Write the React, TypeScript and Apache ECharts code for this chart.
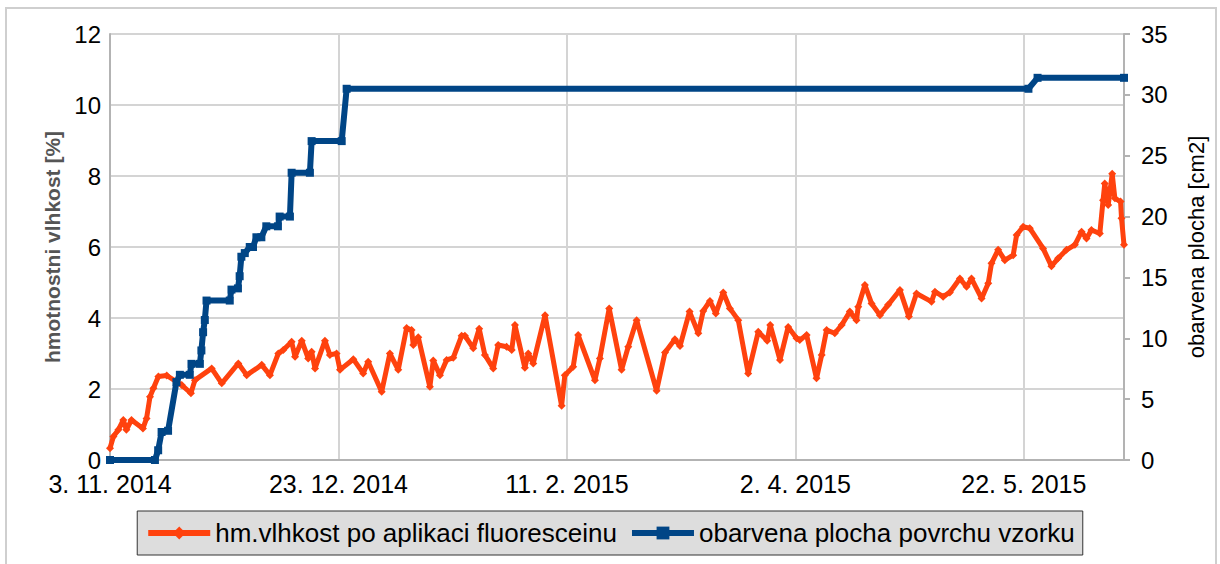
import React, { useEffect, useRef } from 'react';
import * as echarts from 'echarts';

const START = '2014-11-03 00';
const END = '2015-06-12 22';

const humidityName = 'hm.vlhkost po aplikaci fluoresceinu';
const areaName = 'obarvena plocha povrchu vzorku';

const humidityTimes = [
  '2014-11-03 00', '2014-11-03 18', '2014-11-04 20', '2014-11-05 22', '2014-11-06 14', '2014-11-07 17',
  '2014-11-10 05', '2014-11-11 00', '2014-11-11 18', '2014-11-12 12', '2014-11-13 14', '2014-11-15 10',
  '2014-11-18 17', '2014-11-20 17', '2014-11-21 14', '2014-11-25 06', '2014-11-27 11', '2014-12-01 02',
  '2014-12-02 22', '2014-12-06 05', '2014-12-08 00', '2014-12-09 20', '2014-12-10 22', '2014-12-12 18',
  '2014-12-13 12', '2014-12-14 23', '2014-12-16 09', '2014-12-17 03', '2014-12-17 21', '2014-12-20 01',
  '2014-12-21 03', '2014-12-22 14', '2014-12-23 08', '2014-12-26 06', '2014-12-28 10', '2014-12-29 12',
  '2015-01-01 11', '2015-01-03 06', '2015-01-05 02', '2015-01-06 22', '2015-01-08 00', '2015-01-08 09',
  '2015-01-09 11', '2015-01-12 00', '2015-01-12 18', '2015-01-14 05', '2015-01-15 16', '2015-01-17 03',
  '2015-01-18 23', '2015-01-19 16', '2015-01-21 12', '2015-01-22 19', '2015-01-24 01', '2015-01-25 21',
  '2015-01-26 23', '2015-01-28 19', '2015-01-29 22', '2015-01-30 15', '2015-02-01 19', '2015-02-02 13',
  '2015-02-03 15', '2015-02-06 05', '2015-02-09 20', '2015-02-10 13', '2015-02-12 09', '2015-02-13 11',
  '2015-02-17 03', '2015-02-18 05', '2015-02-20 06', '2015-02-22 23', '2015-02-24 10', '2015-02-26 06',
  '2015-03-02 15', '2015-03-04 11', '2015-03-06 15', '2015-03-07 18', '2015-03-09 20', '2015-03-11 18',
  '2015-03-12 20', '2015-03-14 07', '2015-03-15 14', '2015-03-17 05', '2015-03-18 16', '2015-03-20 12',
  '2015-03-22 16', '2015-03-24 21', '2015-03-26 20', '2015-03-27 12', '2015-03-29 15', '2015-03-31 10',
  '2015-04-02 06', '2015-04-02 23', '2015-04-04 11', '2015-04-06 15', '2015-04-07 18', '2015-04-08 20',
  '2015-04-10 15', '2015-04-12 03', '2015-04-13 22', '2015-04-15 09', '2015-04-15 18', '2015-04-17 05',
  '2015-04-18 16', '2015-04-20 12', '2015-04-22 07', '2015-04-24 21', '2015-04-26 20', '2015-04-28 12',
  '2015-05-01 19', '2015-05-02 13', '2015-05-04 08', '2015-05-05 19', '2015-05-08 00', '2015-05-09 11',
  '2015-05-10 13', '2015-05-12 18', '2015-05-14 05', '2015-05-14 22', '2015-05-16 09', '2015-05-17 20',
  '2015-05-19 16', '2015-05-20 10', '2015-05-21 20', '2015-05-23 07', '2015-05-26 05', '2015-05-28 01',
  '2015-05-29 12', '2015-05-31 08', '2015-06-02 04', '2015-06-03 15', '2015-06-04 17', '2015-06-05 19',
  '2015-06-07 15', '2015-06-08 08', '2015-06-08 17', '2015-06-09 11', '2015-06-10 08', '2015-06-10 22',
  '2015-06-12 04', '2015-06-12 09', '2015-06-12 22',
];
const humidityValues = [
  0.33, 0.66, 0.85, 1.13, 0.85, 1.13,
  0.89, 1.17, 1.78, 2.02, 2.35, 2.38,
  2.11, 1.88, 2.25, 2.58, 2.16, 2.72,
  2.39, 2.68, 2.39, 3.0, 3.1, 3.33,
  2.91, 3.36, 2.86, 3.05, 2.58, 3.36,
  2.96, 3.0, 2.54, 2.84, 2.44, 2.77,
  1.92, 3.0, 2.54, 3.72, 3.66, 3.24,
  3.46, 2.06, 2.8, 2.39, 2.82, 2.88,
  3.5, 3.5, 3.15, 3.7, 2.96, 2.58,
  3.24, 3.19, 3.1, 3.8, 2.6, 3.0,
  2.72, 4.08, 1.53, 2.39, 2.63, 3.52,
  2.25, 2.86, 4.27, 2.54, 3.19, 3.94,
  1.95, 3.03, 3.4, 3.21, 4.18, 3.57,
  4.2, 4.48, 4.13, 4.72, 4.27, 3.94,
  2.44, 3.61, 3.36, 3.8, 2.82, 3.75,
  3.43, 3.38, 3.52, 2.3, 2.96, 3.66,
  3.57, 3.8, 4.18, 3.94, 4.32, 4.93,
  4.41, 4.08, 4.37, 4.79, 4.04, 4.69,
  4.46, 4.74, 4.6, 4.72, 5.11, 4.88,
  5.11, 4.55, 4.98, 5.54, 5.92, 5.63,
  5.77, 6.34, 6.57, 6.53, 5.96, 5.46,
  5.68, 5.92, 6.06, 6.43, 6.24, 6.48,
  6.38, 7.32, 7.79, 7.18, 8.06, 7.37,
  7.28, 6.81, 6.06,
];

const areaTimes = [
  '2014-11-03 00', '2014-11-12 20', '2014-11-13 13', '2014-11-14 07', '2014-11-15 17', '2014-11-17 13',
  '2014-11-18 07', '2014-11-20 11', '2014-11-20 20', '2014-11-22 16', '2014-11-23 00', '2014-11-23 09',
  '2014-11-23 18', '2014-11-24 03', '2014-11-29 05', '2014-11-29 14', '2014-12-01 00', '2014-12-01 09',
  '2014-12-01 18', '2014-12-02 12', '2014-12-03 14', '2014-12-04 07', '2014-12-05 01', '2014-12-06 03',
  '2014-12-07 05', '2014-12-09 18', '2014-12-10 03', '2014-12-12 09', '2014-12-12 18', '2014-12-16 18',
  '2014-12-17 03', '2014-12-23 17', '2014-12-24 19', '2015-05-23 00', '2015-05-25 00', '2015-06-12 22',
];
const areaValues = [
  0, 0, 0.8, 2.3, 2.4, 6.4,
  7.0, 7.0, 7.9, 7.9, 9.0, 10.5,
  11.5, 13.1, 13.1, 14.0, 14.1, 15.1,
  16.7, 17.0, 17.5, 17.5, 18.3, 18.3,
  19.2, 19.2, 20.0, 20.0, 23.6, 23.6,
  26.2, 26.2, 30.5, 30.5, 31.4, 31.4,
];

const xTickStepDays = 50;
const leftAxisRange = [0, 12, 2];
const rightAxisRange = [0, 35, 5];

function parseTime(s: string): number {
  const [d, h] = s.split(' ');
  const [y, m, dd] = d.split('-').map(Number);
  return Date.UTC(y, m - 1, dd, Number(h || 0));
}
const DAY = 86400000;
const dayOf = (s: string) => (parseTime(s) - parseTime(START)) / DAY;

function formatDay(v: number): string {
  const r = v / xTickStepDays;
  if (Math.abs(r - Math.round(r)) > 1e-6) return '';
  const dt = new Date(parseTime(START) + v * DAY);
  return `${dt.getUTCDate()}. ${dt.getUTCMonth() + 1}. ${dt.getUTCFullYear()}`;
}

export default function App() {
  const ref = useRef<HTMLDivElement>(null);
  useEffect(() => {
    if (!ref.current) return;
    const chart = echarts.init(ref.current, undefined, { renderer: 'svg' });
    const font = 'Liberation Sans';
    chart.setOption({
      animation: false,
      backgroundColor: '#ffffff',
      textStyle: { fontFamily: font },
      graphic: [
        {
          type: 'rect',
          silent: true,
          shape: { x: 6, y: 8, width: 1210, height: 562 },
          style: { fill: 'none', stroke: '#cfcfcf', lineWidth: 2 },
        },
      ],
      grid: { left: 110, right: 96, top: 34, bottom: 104, containLabel: false },
      xAxis: {
        type: 'value',
        min: 0,
        max: dayOf(END),
        interval: xTickStepDays,
        axisLine: { lineStyle: { color: '#b3b3b3', width: 2 } },
        axisTick: { show: false },
        splitLine: { show: true, lineStyle: { color: '#d4d4d4', width: 2 } },
        axisLabel: { fontSize: 25, color: '#000', margin: 11, fontFamily: font, formatter: formatDay, showMaxLabel: false },
      },
      yAxis: [
        {
          type: 'value',
          min: leftAxisRange[0],
          max: leftAxisRange[1],
          interval: leftAxisRange[2],
          name: 'hmotnostni vlhkost [%]',
          nameLocation: 'middle',
          nameGap: 47,
          nameTextStyle: { fontSize: 21, fontWeight: 'bold', color: '#555555', fontFamily: font },
          axisLine: { show: true, lineStyle: { color: '#b3b3b3', width: 2 } },
          axisTick: { show: false },
          axisLabel: { fontSize: 24, color: '#000', margin: 9, fontFamily: font },
          splitLine: { show: true, lineStyle: { color: '#d4d4d4', width: 2 } },
        },
        {
          type: 'value',
          position: 'right',
          min: rightAxisRange[0],
          max: rightAxisRange[1],
          interval: rightAxisRange[2],
          name: 'obarvena plocha [cm2]',
          nameLocation: 'middle',
          nameGap: 61,
          nameTextStyle: { fontSize: 22, color: '#000', fontFamily: font },
          axisLine: { show: true, lineStyle: { color: '#b3b3b3', width: 2 } },
          axisTick: { show: true, length: 6, lineStyle: { color: '#b3b3b3', width: 2 } },
          axisLabel: { fontSize: 24, color: '#000', margin: 17, fontFamily: font },
          splitLine: { show: false },
        },
      ],
      legend: {
        left: 'center',
        bottom: 9,
        backgroundColor: '#dddddd',
        borderColor: '#333333',
        borderWidth: 1,
        borderRadius: 0,
        padding: [9, 8],
        itemWidth: 62,
        itemHeight: 16,
        itemGap: 12,
        lineStyle: { width: 6 },
        textStyle: { fontSize: 26, color: '#000', fontFamily: font },
        data: [humidityName, areaName],
      },
      series: [
        {
          name: humidityName,
          type: 'line',
          yAxisIndex: 0,
          data: humidityTimes.map((t, i) => [dayOf(t), humidityValues[i]]),
          symbol: 'diamond',
          symbolSize: 8,
          showSymbol: true,
          lineStyle: { color: '#ff420e', width: 5 },
          itemStyle: { color: '#ff420e' },
          z: 2,
        },
        {
          name: areaName,
          type: 'line',
          yAxisIndex: 1,
          data: areaTimes.map((t, i) => [dayOf(t), areaValues[i]]),
          symbol: 'rect',
          symbolSize: 8,
          showSymbol: true,
          lineStyle: { color: '#004586', width: 6 },
          itemStyle: { color: '#004586' },
          z: 3,
        },
      ],
    });
    return () => chart.dispose();
  }, []);
  return (
    <div
      ref={ref}
      style={{ position: 'fixed', left: 0, top: 0, width: 1220, height: 564, background: '#fff' }}
    />
  );
}
